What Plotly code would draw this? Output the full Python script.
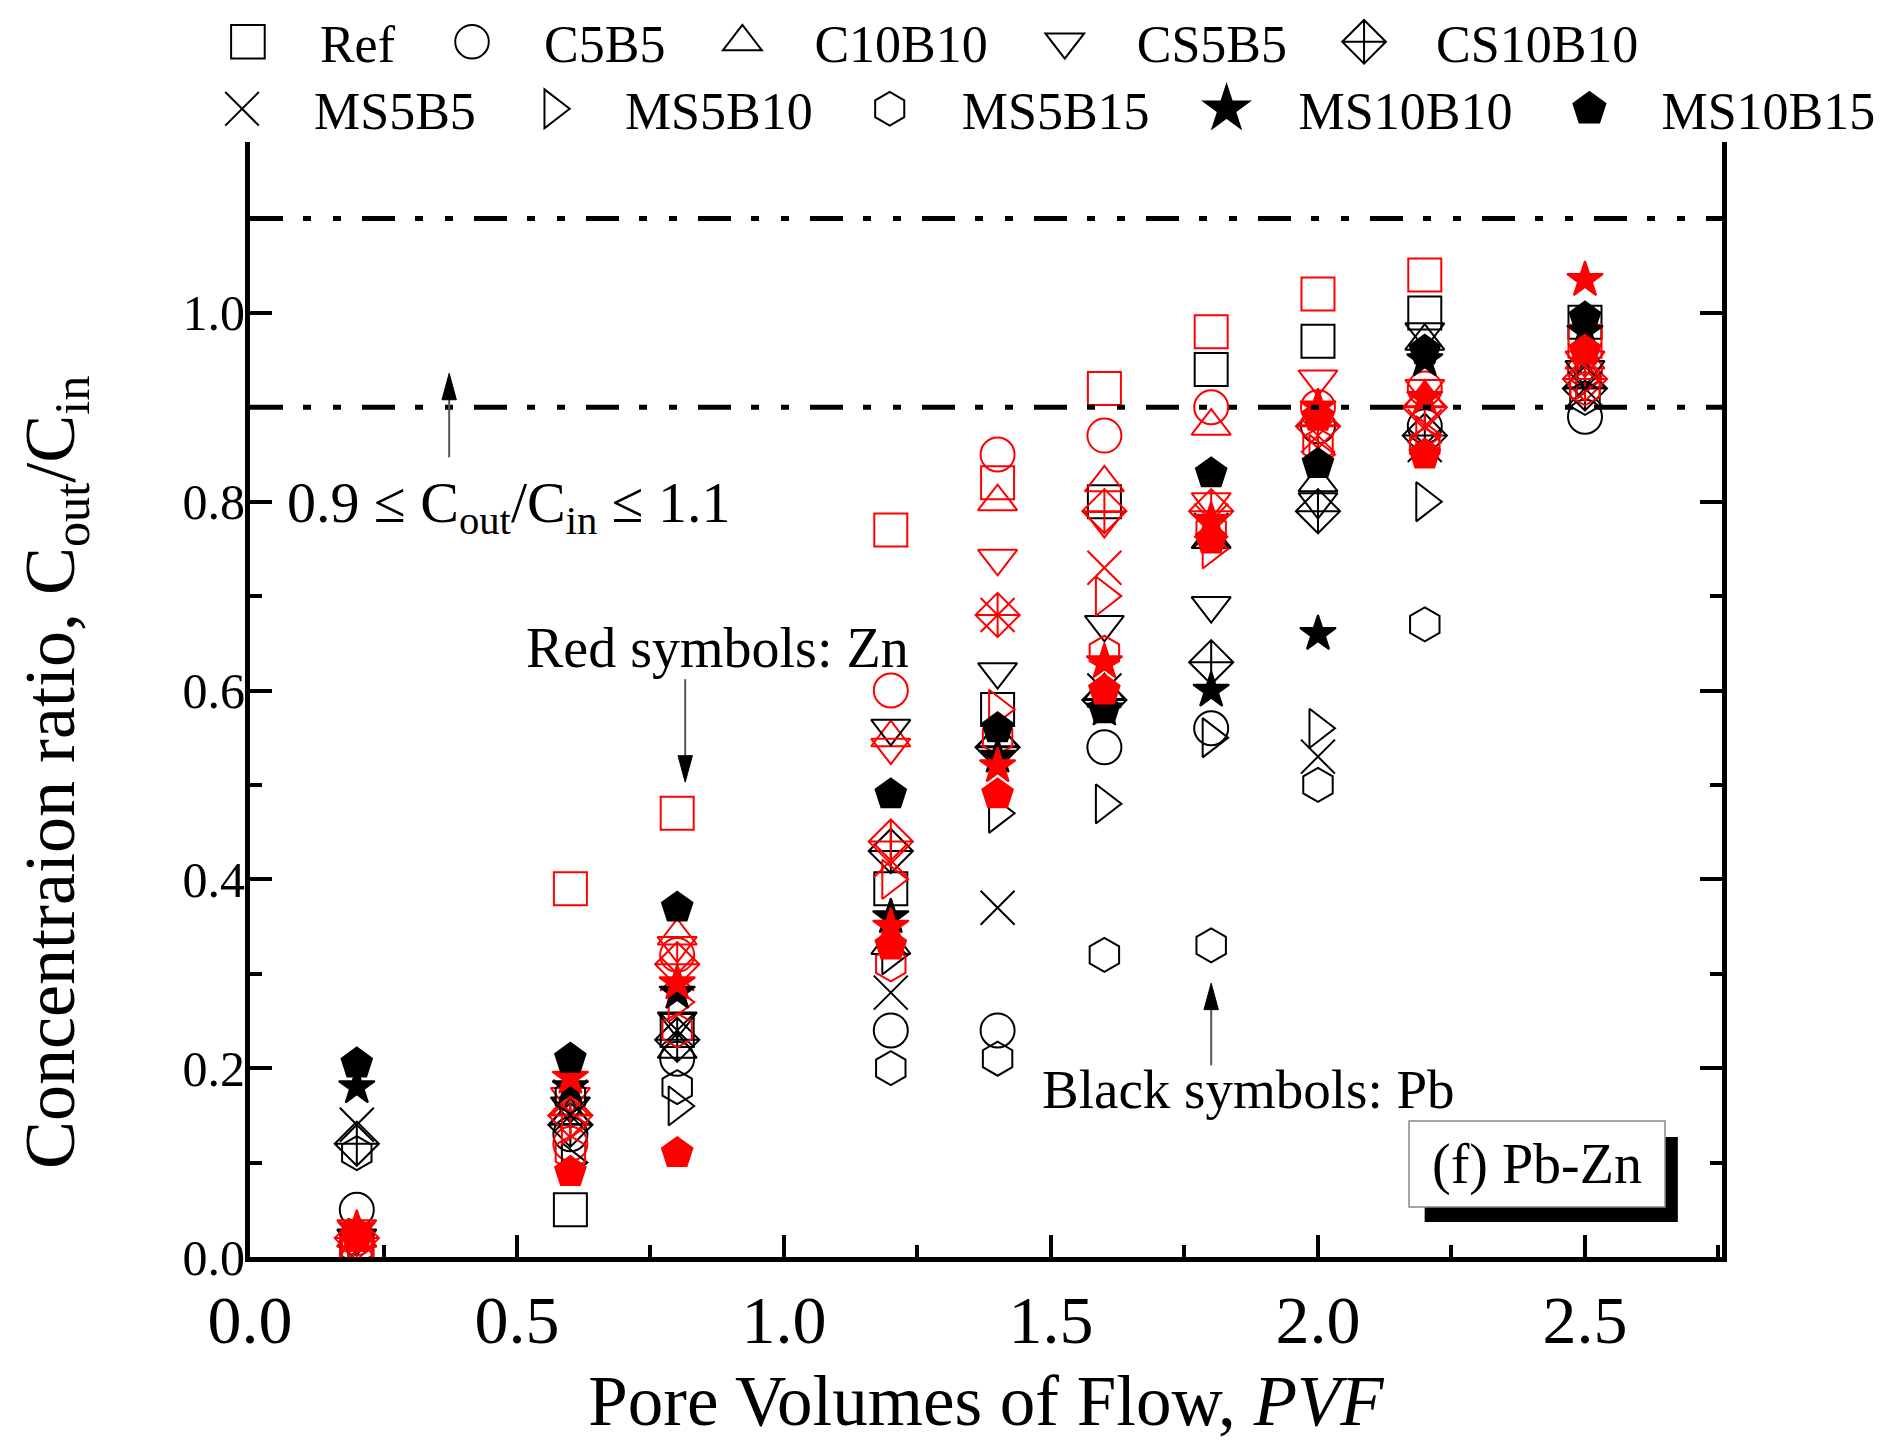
import plotly.graph_objects as go

# ---------------- data ----------------
PVF = [0.2, 0.6, 0.8, 1.2, 1.4, 1.6, 1.8, 2.0, 2.2, 2.5]
SERIES = ["Ref", "C5B5", "C10B10", "CS5B5", "CS10B10",
          "MS5B5", "MS5B10", "MS5B15", "MS10B10", "MS10B15"]

# Pb (black symbols)
PB_REF     = [0.01, 0.05, 0.24, 0.39, 0.58, 0.80, 0.94, 0.97, 1.00, 0.99]
PB_C5B5    = [0.05, 0.13, 0.21, 0.24, 0.24, 0.54, 0.56, 0.88, 0.88, 0.89]
PB_C10B10  = [0.02, 0.15, 0.22, 0.33, 0.55, 0.60, 0.76, 0.82, 0.97, 0.93]
PB_CS5B5   = [0.02, 0.16, 0.25, 0.56, 0.62, 0.67, 0.69, 0.80, 0.98, 0.94]
PB_CS10B10 = [0.12, 0.14, 0.23, 0.43, 0.54, 0.59, 0.63, 0.79, 0.87, 0.92]
PB_MS5B5   = [0.14, 0.15, 0.24, 0.28, 0.37, 0.60, 0.77, 0.53, 0.86, 0.92]
PB_MS5B10  = [0.02, 0.10, 0.16, 0.32, 0.47, 0.48, 0.55, 0.56, 0.80, 0.93]
PB_MS5B15  = [0.11, 0.17, 0.18, 0.20, 0.21, 0.32, 0.33, 0.50, 0.67, 0.91]
PB_MS10B10 = [0.18, 0.18, 0.28, 0.36, 0.53, 0.58, 0.60, 0.66, 0.95, 0.98]
PB_MS10B15 = [0.205, 0.21, 0.37, 0.49, 0.56, 0.58, 0.83, 0.84, 0.96, 0.995]

# Zn (red symbols)
ZN_REF     = [0.01, 0.39, 0.47, 0.77, 0.82, 0.92, 0.98, 1.02, 1.04, 0.97]
ZN_C5B5    = [0.02, 0.12, 0.32, 0.60, 0.85, 0.87, 0.90, 0.90, 0.92, 0.94]
ZN_C10B10  = [0.02, 0.16, 0.34, 0.55, 0.80, 0.82, 0.88, 0.89, 0.91, 0.95]
ZN_CS5B5   = [0.03, 0.17, 0.33, 0.54, 0.74, 0.78, 0.80, 0.93, 0.92, 0.95]
ZN_CS10B10 = [0.02, 0.15, 0.31, 0.44, 0.68, 0.79, 0.79, 0.88, 0.90, 0.93]
ZN_MS5B5   = [0.02, 0.17, 0.30, 0.42, 0.68, 0.73, 0.78, 0.87, 0.88, 0.95]
ZN_MS5B10  = [0.02, 0.14, 0.27, 0.40, 0.58, 0.70, 0.75, 0.85, 0.87, 0.93]
ZN_MS5B15  = [0.01, 0.11, 0.24, 0.31, 0.55, 0.64, 0.77, 0.86, 0.86, 0.92]
ZN_MS10B10 = [0.03, 0.19, 0.29, 0.35, 0.52, 0.63, 0.78, 0.90, 0.91, 1.035]
ZN_MS10B15 = [0.02, 0.09, 0.11, 0.33, 0.49, 0.60, 0.76, 0.89, 0.85, 0.96]

PB_VALUES = [PB_REF, PB_C5B5, PB_C10B10, PB_CS5B5, PB_CS10B10,
             PB_MS5B5, PB_MS5B10, PB_MS5B15, PB_MS10B10, PB_MS10B15]
ZN_VALUES = [ZN_REF, ZN_C5B5, ZN_C10B10, ZN_CS5B5, ZN_CS10B10,
             ZN_MS5B5, ZN_MS5B10, ZN_MS5B15, ZN_MS10B10, ZN_MS10B15]

LIMIT_LOW = 0.9
LIMIT_HIGH = 1.1

# ---------------- styles ----------------
SYMBOLS = ["square-open", "circle-open", "triangle-up-open", "triangle-down-open",
           "diamond-cross-open", "x-thin-open", "triangle-right-open", "hexagon-open",
           "star", "pentagon"]
SIZES = [33, 34, 34, 34, 34, 34, 34, 34, 27, 32]
PB_COLOR = "#000000"
ZN_COLOR = "#FF0000"
FONT = "Liberation Serif"
NB = "\u00a0"

fig = go.Figure()

for i, name in enumerate(SERIES):
    legend_id = "legend" if i < 5 else "legend2"
    last_in_row = (i == 4 or i == 9)
    label = NB * 4 + name + ("" if last_in_row else NB * 4)
    fig.add_trace(go.Scatter(
        x=PVF, y=PB_VALUES[i], mode="markers", name=label,
        legend=legend_id, legendgroup=name,
        marker=dict(symbol=SYMBOLS[i], size=SIZES[i], color=PB_COLOR,
                    line=dict(color=PB_COLOR, width=2)),
        hovertemplate=name + " (Pb)<br>PVF=%{x}<br>C/C0=%{y}<extra></extra>",
    ))
    fig.add_trace(go.Scatter(
        x=PVF, y=ZN_VALUES[i], mode="markers", name=name + " (Zn)",
        legend=legend_id, legendgroup=name, showlegend=False,
        marker=dict(symbol=SYMBOLS[i], size=SIZES[i], color=ZN_COLOR,
                    line=dict(color=ZN_COLOR, width=2)),
        hovertemplate=name + " (Zn)<br>PVF=%{x}<br>C/C0=%{y}<extra></extra>",
    ))

# limit lines (dash-dot-dot)
DASH = "33px,20px,8px,22px,8px,21px"
for yv in (LIMIT_HIGH, LIMIT_LOW):
    fig.add_shape(type="line", xref="paper", x0=0, x1=1, yref="y", y0=yv, y1=yv,
                  line=dict(color="black", width=5, dash=DASH), layer="above")

# label box with shadow
fig.add_shape(type="rect", xref="paper", yref="paper", x0=0.798, x1=0.970, y0=0.0314, y1=0.1076,
              fillcolor="black", line=dict(width=0), layer="above")
fig.add_shape(type="rect", xref="paper", yref="paper", x0=0.7874, x1=0.9613, y0=0.0448, y1=0.122,
              fillcolor="white", line=dict(color="#888888", width=1.5), layer="above")

# pointer arrows (head x, head y, tail y) drawn as shaft + triangular head
ARROWS = [(0.373, 0.936, 0.847), (0.815, 0.503, 0.612), (1.800, 0.290, 0.203)]
HEAD_HALF_W = 0.0135   # in x data units
HEAD_LEN = 0.028       # in y data units
for hx, hy, ty in ARROWS:
    sgn = 1 if hy > ty else -1
    base = hy - sgn * HEAD_LEN
    fig.add_shape(type="line", xref="x", yref="y", x0=hx, x1=hx, y0=ty, y1=base,
                  line=dict(color="#555555", width=2), layer="above")
    fig.add_shape(type="path", xref="x", yref="y",
                  path=f"M {hx},{hy} L {hx - HEAD_HALF_W},{base} L {hx + HEAD_HALF_W},{base} Z",
                  fillcolor="black", line=dict(color="black", width=1), layer="above")

ann_font = dict(family=FONT, size=56, color="black")
annotations = [
    dict(x=0.8743, y=0.0834, xref="paper", yref="paper", text="(f) Pb-Zn",
         showarrow=False, font=ann_font, xanchor="center", yanchor="middle"),
    dict(x=0.485, y=0.795, xref="x", yref="y",
         text="0.9 \u2264 C<sub>out</sub>/C<sub>in</sub> \u2264 1.1",
         showarrow=False, font=dict(family=FONT, size=58, color="black"),
         xanchor="center", yanchor="middle"),
    dict(x=0.875, y=0.645, xref="x", yref="y", text="Red symbols: Zn",
         showarrow=False, font=ann_font, xanchor="center", yanchor="middle"),
    dict(x=1.869, y=0.177, xref="x", yref="y", text="Black symbols: Pb",
         showarrow=False, font=dict(family=FONT, size=55, color="black"),
         xanchor="center", yanchor="middle"),
    # y-axis title
    dict(x=-0.1325, y=0.435, xref="paper", yref="paper",
         text="Concentraion ratio, C<sub>out</sub>/C<sub>in</sub>",
         textangle=-90, showarrow=False, font=dict(family=FONT, size=72, color="black"),
         xanchor="center", yanchor="middle"),
]

legend_common = dict(orientation="h", xanchor="left", yanchor="middle",
                     bgcolor="rgba(0,0,0,0)", borderwidth=0, traceorder="normal",
                     font=dict(family=FONT, size=52, color="black"), itemwidth=30)

fig.update_layout(
    width=1900, height=1440,
    margin=dict(l=250, r=178, t=142, b=183, autoexpand=False),
    plot_bgcolor="white", paper_bgcolor="white",
    font=dict(family=FONT, color="black"),
    annotations=annotations,
    legend=dict(x=-0.015, y=1.0897, **legend_common),
    legend2=dict(x=-0.019, y=1.0296, **legend_common),
    xaxis=dict(
        range=[0, 2.7566], tick0=0, dtick=0.5, tickformat=".1f",
        ticks="inside", ticklen=22, tickwidth=4, tickcolor="black",
        minor=dict(dtick=0.25, ticks="inside", ticklen=12, tickwidth=4, tickcolor="black"),
        showline=True, linewidth=5, linecolor="black", mirror=False,
        showgrid=False, zeroline=False,
        tickfont=dict(family=FONT, size=68, color="black"), ticklabelstandoff=-1,
        title=dict(text="Pore Volumes of Flow, <i>PVF</i>",
                   font=dict(family=FONT, size=71, color="black"), standoff=22),
    ),
    yaxis=dict(
        range=[0, 1.181], tick0=0, dtick=0.2, tickformat=".1f",
        ticks="inside", ticklen=22, tickwidth=4, tickcolor="black",
        minor=dict(dtick=0.1, ticks="inside", ticklen=12, tickwidth=4, tickcolor="black"),
        showline=True, linewidth=5, linecolor="black", mirror="ticks",
        showgrid=False, zeroline=False,
        tickfont=dict(family=FONT, size=50, color="black"), ticklabelstandoff=-10,
    ),
)

# Legend symbols are capped at 16 px by plotly; enlarge them to match the marker size on the plot.
LEGEND_SYMBOL_SCALE = 2.1
post_js = """
var gd = document.getElementById('{plot_id}');
gd.querySelectorAll('.legendpoints path.scatterpts').forEach(function(p) {
  var t = p.getAttribute('transform') || '';
  p.setAttribute('transform', t + ' scale(%s)');
  p.style.vectorEffect = 'non-scaling-stroke';
});
""" % LEGEND_SYMBOL_SCALE

fig.write_html("out.html", post_script=post_js)
